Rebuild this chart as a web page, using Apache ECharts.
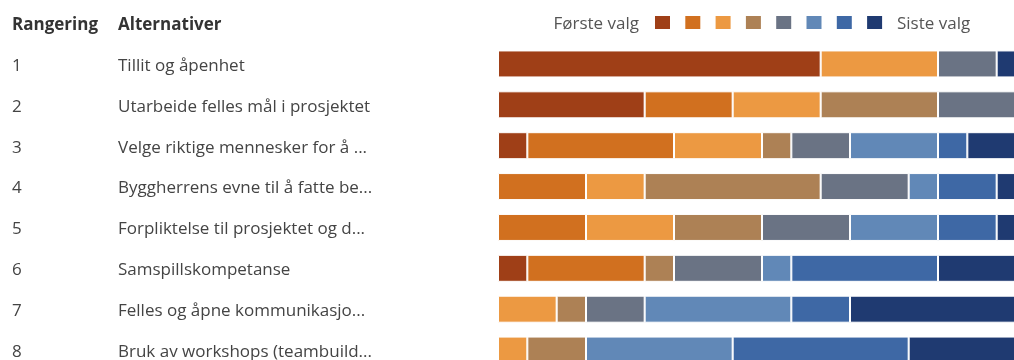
<!DOCTYPE html>
<html>
<head>
<meta charset="utf-8">
<style>
  html, body { margin: 0; padding: 0; background: #fff; }
  #chart { width: 1014px; height: 360px; }
</style>
<script src="https://cdn.jsdelivr.net/npm/echarts@6/dist/echarts.min.js"></script>
</head>
<body>
<div id="chart"></div>
<script>
// Ranked alternatives (rank shown in the first column)
const ranks = ['1', '2', '3', '4', '5', '6', '7', '8'];
const categories = [
  'Tillit og åpenhet',
  'Utarbeide felles mål i prosjektet',
  'Velge riktige mennesker for å ...',
  'Byggherrens evne til å fatte be...',
  'Forpliktelse til prosjektet og d...',
  'Samspillskompetanse',
  'Felles og åpne kommunikasjo...',
  'Bruk av workshops (teambuild...'
];

// Number of respondents who placed each alternative at a given position
const place1 = [11, 5, 1, 0, 0, 1, 0, 0];
const place2 = [0, 3, 5, 3, 3, 4, 0, 0];
const place3 = [4, 3, 3, 2, 3, 0, 2, 1];
const place4 = [0, 4, 1, 6, 3, 1, 1, 2];
const place5 = [2, 3, 2, 3, 3, 3, 2, 0];
const place6 = [0, 0, 3, 1, 3, 1, 5, 5];
const place7 = [0, 0, 1, 2, 2, 5, 2, 6];
const place8 = [1, 0, 2, 1, 1, 3, 6, 4];
const respondents = 18;

const placeNames = ['Plass 1', 'Plass 2', 'Plass 3', 'Plass 4', 'Plass 5', 'Plass 6', 'Plass 7', 'Plass 8'];
const placeValues = [place1, place2, place3, place4, place5, place6, place7, place8];
const placeColors = ['#9F3F17', '#D1701F', '#EC9942', '#AD8155', '#6A7384', '#6188B7', '#3E68A5', '#1F3A71'];

const textColor = '#444';
const fontFamily = '"Open Sans", "Noto Sans", sans-serif';
const fontSize = 17;

const series = placeNames.map((name, k) => ({
  name: name,
  type: 'bar',
  stack: 'rang',
  barWidth: 27,
  data: placeValues[k].map(v => (v === 0 ? '-' : v)),
  itemStyle: { color: placeColors[k], borderColor: '#fff', borderWidth: 1 },
  emphasis: { disabled: true }
}));

const chart = echarts.init(document.getElementById('chart'), null, { renderer: 'canvas' });
chart.setOption({
  animation: false,
  textStyle: { fontFamily: fontFamily },
  // the bar area runs past the right edge of the canvas
  grid: { left: 498, top: 43.5, width: 528, height: 327, outerBoundsMode: 'none' },
  xAxis: {
    type: 'value', min: 0, max: respondents,
    show: false
  },
  yAxis: {
    type: 'category', inverse: true, data: categories,
    axisLine: { show: false }, axisTick: { show: false },
    axisLabel: {
      align: 'left', margin: 486,
      color: textColor, fontSize: fontSize, fontFamily: fontFamily,
      formatter: (v, i) => '{r|' + ranks[i] + '}{n|' + v + '}',
      rich: {
        r: { width: 106, padding: [4, 0, 0, 0], color: textColor, fontSize: fontSize, fontFamily: fontFamily },
        n: { padding: [4, 0, 0, 0], color: textColor, fontSize: fontSize, fontFamily: fontFamily }
      }
    }
  },
  legend: {
    data: placeNames,
    left: 655, top: 16, padding: 0,
    icon: 'rect', itemWidth: 15, itemHeight: 13, itemGap: 15.3,
    itemStyle: { borderWidth: 0 },
    formatter: () => '',
    selectedMode: false
  },
  graphic: [
    { type: 'text', left: 12, top: 17, style: { text: 'Rangering', fontSize: fontSize, fontWeight: 'bold', fill: '#333', fontFamily: fontFamily } },
    { type: 'text', left: 118, top: 17, style: { text: 'Alternativer', fontSize: fontSize, fontWeight: 'bold', fill: '#333', fontFamily: fontFamily } },
    { type: 'text', right: 375, top: 16, style: { text: 'Første valg', fontSize: fontSize, fill: '#555', fontFamily: fontFamily } },
    { type: 'text', left: 897, top: 16, style: { text: 'Siste valg', fontSize: fontSize, fill: '#555', fontFamily: fontFamily } }
  ],
  series: series
});
</script>
</body>
</html>
